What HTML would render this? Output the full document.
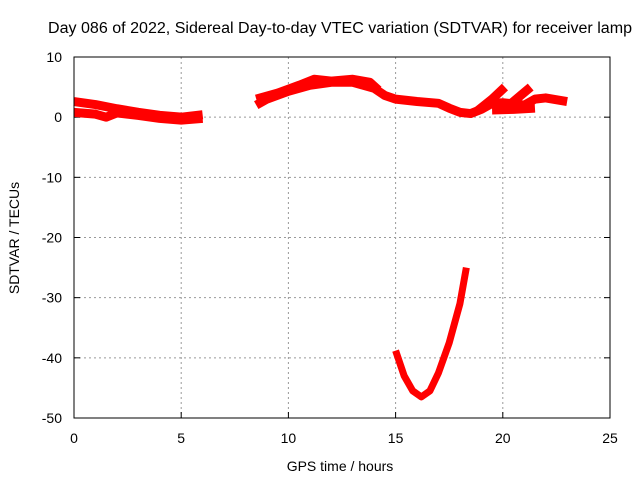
<!DOCTYPE html>
<html><head><meta charset="utf-8"><style>
body{margin:0;background:#fff}
svg{display:block;font-family:"Liberation Sans",sans-serif;font-size:14px}
</style></head><body>
<svg id="chart" width="640" height="480">
<text x="48" y="33" textLength="584" lengthAdjust="spacingAndGlyphs" style="font-size:15.5px">Day 086 of 2022, Sidereal Day-to-day VTEC variation (SDTVAR) for receiver lamp</text>
<g id="grid"></g><g id="ticks"></g>
<g id="series"></g>
<rect x="74" y="57" width="536" height="361" fill="none" stroke="#000"/>
<text x="340" y="471" text-anchor="middle">GPS time / hours</text>
<text transform="translate(19,238) rotate(-90)" text-anchor="middle">SDTVAR / TECUs</text>
</svg>
<script>
const xTicks=[0,5,10,15,20,25];
const yTicks=[10,0,-10,-20,-30,-40,-50];
const trackUpperMorning=[[0,2.6],[1,2.1],[2,1.4],[3,0.8],[4,0.3],[5,0],[6,0.4]];
const trackLowerMorning=[[0,0.8],[1,0.5],[1.5,0],[2,0.7],[3,0.3],[4,-0.2],[5,-0.5],[6,-0.2]];
const trackDayA=[[8.5,2],[9,3],[10,4.3],[11,5.3],[12,5.8],[13,5.8],[14,4.8],[14.5,3.6],[15,3],[16,2.6],[17,2.3],[17.5,1.5],[18,0.8],[18.5,0.6],[19,1.3],[19.5,2.3],[20,2.4],[21,2],[21.5,3],[22,3.2],[23,2.6]];
const trackDayB=[[8.5,3],[9.5,4],[10.5,5.3],[11.2,6.3],[12,6],[13,6.3],[13.8,5.8],[14.2,4.5]];
const trackBranch1=[[18.8,1],[19.5,3],[20.1,5]];
const trackBranch2=[[20.3,2],[20.8,3.5],[21.3,5]];
const trackBranch3=[[19.5,1.2],[20.5,1.3],[21.5,1.5]];
const trackDip=[[15,-38.8],[15.4,-43],[15.8,-45.5],[16.2,-46.5],[16.6,-45.5],[17,-42.5],[17.5,-37.5],[18,-31],[18.3,-25]];
const tracks=[trackUpperMorning,trackLowerMorning,trackDayA,trackDayB,trackBranch1,trackBranch2,trackBranch3,trackDip];
const X=v=>74+v*536/25, Y=v=>57+(10-v)*361/60;
const NS='http://www.w3.org/2000/svg';
const mk=(t,a,p)=>{const e=document.createElementNS(NS,t);for(const k in a)e.setAttribute(k,a[k]);document.getElementById(p).appendChild(e);return e;};
xTicks.forEach(v=>{
 if(v>0&&v<25){const g=mk('line',{x1:X(v),x2:X(v),y1:57,y2:418,stroke:'#999','stroke-dasharray':'2,3'},'grid');
 
 }
 const t=mk('text',{x:X(v),y:443,'text-anchor':'middle'},'ticks');t.textContent=v;
 
 
 mk('line',{x1:X(v),x2:X(v),y1:418,y2:412,stroke:'#000'},'ticks');
});
yTicks.forEach(v=>{
 if(v<10&&v>-50){const g=mk('line',{x1:74,x2:610,y1:Y(v),y2:Y(v),stroke:'#999','stroke-dasharray':'2,3'},'grid');
 
 }
 const t=mk('text',{x:62,y:Y(v)+5,'text-anchor':'end'},'ticks');t.textContent=v;
 
 
 mk('line',{x1:74,x2:80,y1:Y(v),y2:Y(v),stroke:'#000'},'ticks');
 mk('line',{x1:610,x2:604,y1:Y(v),y2:Y(v),stroke:'#000'},'ticks');
});
tracks.forEach(tr=>{
 const p=mk('polyline',{points:tr.map(d=>X(d[0])+','+Y(d[1])).join(' '),fill:'none',stroke:'#f00','stroke-width':tr===trackDip?7:9,'stroke-linejoin':'round'},'series');
 
 
});
</script>
</body></html>
